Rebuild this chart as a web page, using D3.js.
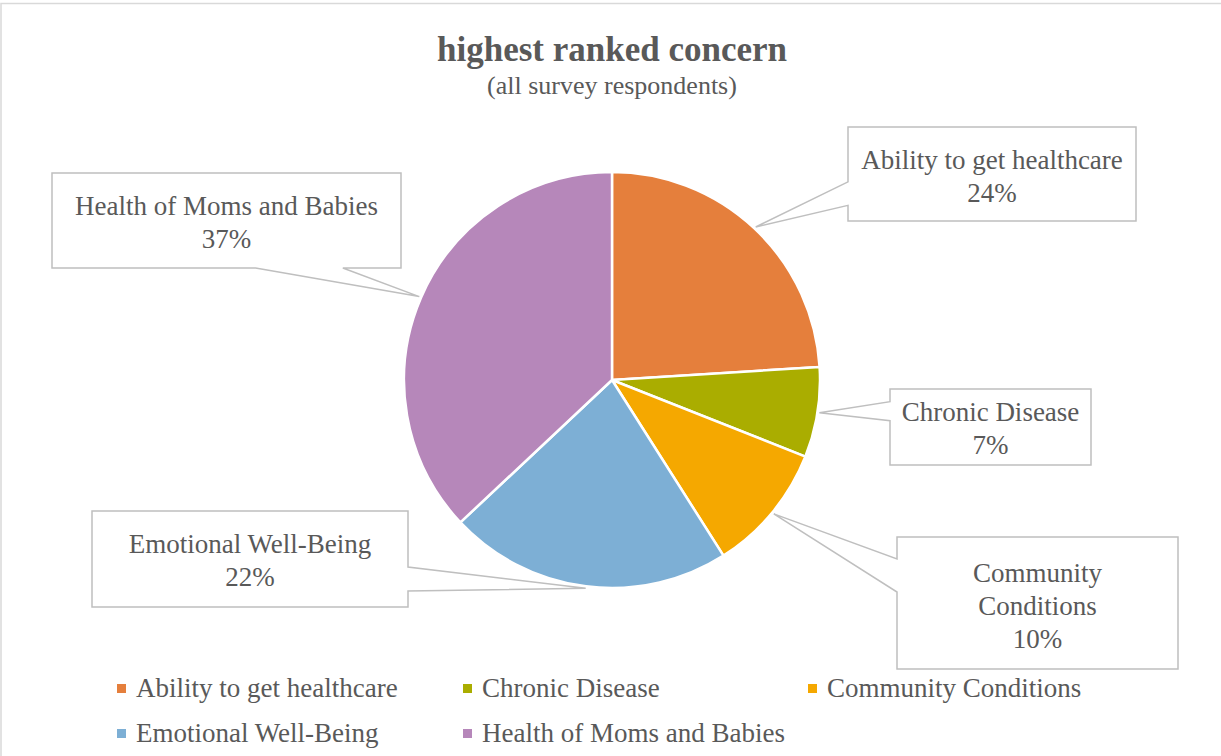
<!DOCTYPE html>
<html>
<head>
<meta charset="utf-8">
<script src="https://cdn.jsdelivr.net/npm/d3@7/dist/d3.min.js"></script>
<style>
  html, body { margin: 0; padding: 0; background: #ffffff; }
  svg { display: block; }
  text { font-family: "Liberation Serif", "Times New Roman", serif; fill: #595959; }
</style>
</head>
<body>
<svg id="chart" width="1221" height="756"></svg>
<script>
// Survey results: share of respondents naming each concern as their top priority
const categories = [
  "Ability to get healthcare",
  "Chronic Disease",
  "Community Conditions",
  "Emotional Well-Being",
  "Health of Moms and Babies"
];
const shares = [24, 7, 10, 22, 37];
const sliceColors = ["#E57F3C", "#AAAD00", "#F5A800", "#7DAFD5", "#B687BA"];

const titleText = "highest ranked concern";
const subtitleText = "(all survey respondents)";

// Callout boxes (layout only): position, size, first baseline, whether to wrap words
const calloutBoxes = [
  { x: 848, y: 127, w: 288, h: 94, base: 169, wrap: false },
  { x: 890, y: 389, w: 201, h: 76, base: 421, wrap: false },
  { x: 897, y: 537, w: 281, h: 132, base: 582, wrap: true },
  { x: 92,  y: 511, w: 316, h: 96, base: 553, wrap: false },
  { x: 52,  y: 173, w: 349, h: 95, base: 215, wrap: false }
];

// Legend layout: two rows
const legendSlots = [
  { x: 117, y: 697 }, { x: 463, y: 697 }, { x: 808, y: 697 },
  { x: 117, y: 742 }, { x: 463, y: 742 }
];

const svg = d3.select("#chart");
const cx = 612, cy = 380, R = 208;
const lineH = 33;

// chart area frame
svg.append("rect")
  .attr("x", 1).attr("y", 3.5).attr("width", 1260).attr("height", 800)
  .attr("fill", "none").attr("stroke", "#d9d9d9").attr("stroke-width", 1.5);

// title
svg.append("text").attr("x", 612).attr("y", 61)
  .attr("text-anchor", "middle").attr("font-size", 35).attr("font-weight", "bold")
  .text(titleText);
svg.append("text").attr("x", 612).attr("y", 94)
  .attr("text-anchor", "middle").attr("font-size", 26)
  .text(subtitleText);

// pie
const pie = d3.pie().sort(null).value(d => d).startAngle(0).endAngle(2 * Math.PI);
const arcs = pie(shares);
const arc = d3.arc().innerRadius(0).outerRadius(R);
const tipArc = d3.arc().innerRadius(R + 2).outerRadius(R + 2);

const g = svg.append("g").attr("transform", `translate(${cx},${cy})`);
g.selectAll("path.slice")
  .data(arcs)
  .join("path")
  .attr("class", "slice")
  .attr("d", arc)
  .attr("fill", (d, i) => sliceColors[i])
  .attr("stroke", "#ffffff")
  .attr("stroke-width", 2.5)
  .attr("stroke-linejoin", "round");

// Rectangular callout with a wedge pointing at (tx, ty)
function calloutPath(b, tx, ty) {
  const x0 = b.x, y0 = b.y, x1 = b.x + b.w, y1 = b.y + b.h;
  const mx = b.x + b.w / 2, my = b.y + b.h / 2;
  const dx = (tx - mx) / (b.w / 2), dy = (ty - my) / (b.h / 2);
  const p = [];
  if (Math.abs(dx) >= Math.abs(dy)) {
    // wedge on a vertical edge
    const f = ty > my ? [7 / 12, 10 / 12] : [2 / 12, 5 / 12];
    const ya = y0 + b.h * f[0], yb = y0 + b.h * f[1];
    if (dx < 0) {
      p.push([x0, y0], [x1, y0], [x1, y1], [x0, y1], [x0, yb], [tx, ty], [x0, ya]);
    } else {
      p.push([x0, y0], [x1, y0], [x1, ya], [tx, ty], [x1, yb], [x1, y1], [x0, y1]);
    }
  } else {
    // wedge on a horizontal edge
    const f = tx > mx ? [7 / 12, 10 / 12] : [2 / 12, 5 / 12];
    const xa = x0 + b.w * f[0], xb = x0 + b.w * f[1];
    if (dy > 0) {
      p.push([x0, y0], [x1, y0], [x1, y1], [xb, y1], [tx, ty], [xa, y1], [x0, y1]);
    } else {
      p.push([x0, y0], [xa, y0], [tx, ty], [xb, y0], [x1, y0], [x1, y1], [x0, y1]);
    }
  }
  return "M" + p.map(q => q.join(",")).join("L") + "Z";
}

const labels = svg.append("g");
arcs.forEach((a, i) => {
  const b = calloutBoxes[i];
  const c = tipArc.centroid(a);
  const tx = cx + c[0], ty = cy + c[1];
  labels.append("path")
    .attr("d", calloutPath(b, tx, ty))
    .attr("fill", "#ffffff")
    .attr("stroke", "#bfbfbf")
    .attr("stroke-width", 1.5)
    .attr("stroke-linejoin", "miter");
  const lines = (b.wrap ? categories[i].split(" ") : [categories[i]])
    .concat([d3.format(".0%")(a.data / d3.sum(shares))]);
  const t = labels.append("text")
    .attr("text-anchor", "middle")
    .attr("font-size", 27);
  lines.forEach((ln, k) => {
    t.append("tspan").attr("x", b.x + b.w / 2).attr("y", b.base + k * lineH).text(ln);
  });
});

// legend
const legend = svg.append("g");
categories.forEach((name, i) => {
  const s = legendSlots[i];
  legend.append("rect")
    .attr("x", s.x).attr("y", s.y - 13).attr("width", 9).attr("height", 9)
    .attr("fill", sliceColors[i]);
  legend.append("text")
    .attr("x", s.x + 19).attr("y", s.y)
    .attr("font-size", 27)
    .text(name);
});
</script>
</body>
</html>
